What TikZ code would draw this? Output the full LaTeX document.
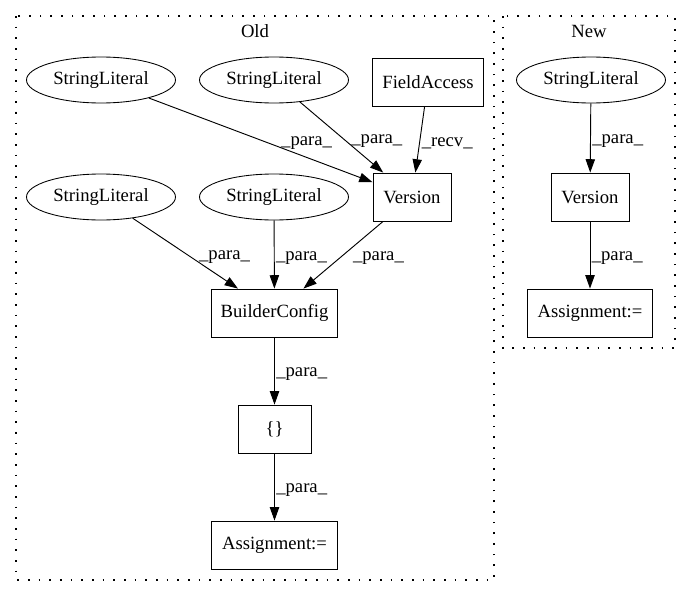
\documentclass[tikz,border=0pt]{standalone}
\usepackage{fontspec}
\setmainfont{Liberation Serif}
\usepackage{tikz}
\usetikzlibrary{positioning, shapes, arrows.meta}

\begin{document}
\begin{tikzpicture}[
    x=0.75pt, y=-0.75pt,
    font=\fontsize{14}{16}\selectfont,
    block/.style={rectangle, draw, line width=0.65pt, minimum height=36pt, inner sep=0pt},
    cloud/.style={ellipse, draw, line width=0.65pt, minimum width=111.75pt, minimum height=34.5pt, inner sep=0pt},
    line/.style={draw, line width=0.7pt, -{Triangle[length=10pt, width=7pt]}},
    lbl/.style={inner sep=1pt, right, yshift=-2.5pt},
    cluster/.style={draw, line width=0.9pt, dash pattern=on 1.3pt off 6.7pt}
    ]
    \useasboundingbox (0,0) rectangle (692,596);

    % Old
    \draw[cluster] (16,16) rectangle (494,580);
    \node (oldlbl) at (255,31) {Old};

    \node[cloud] (sla) at (101,80) {StringLiteral};
    \node[cloud] (slb) at (274,80) {StringLiteral};
    \node[block, minimum width=83pt] (fa) at (428,82) {FieldAccess};
    \node[block, minimum width=58.5pt] (ver) at (412,197) {Version};
    \node[cloud] (slc) at (101,197) {StringLiteral};
    \node[cloud] (sld) at (274,197) {StringLiteral};
    \node[block, minimum width=94pt] (bc) at (274.5,313) {BuilderConfig};
    \node[block, minimum width=54.75pt] (br) at (274.5,429) {\{\}};
    \node[block, minimum width=94pt] (asg) at (274.5,545) {Assignment:=};

    % New
    \draw[cluster] (503,16) rectangle (675,348);
    \node (newlbl) at (589,31) {New};

    \node[cloud] (nsl) at (591,80) {StringLiteral};
    \node[block, minimum width=58.5pt] (nver) at (590,197) {Version};
    \node[block, minimum width=94pt] (nasg) at (590,313) {Assignment:=};

    \draw[line] (sla) -- (ver) node[lbl, pos=0.5, xshift=14pt] {\_para\_};
    \draw[line] (slb) -- (ver) node[lbl, pos=0.5, xshift=6pt] {\_para\_};
    \draw[line] (fa) -- (ver) node[lbl, pos=0.5] {\_recv\_};

    \draw[line] (slc) -- (bc) node[lbl, pos=0.5, xshift=9pt] {\_para\_};
    \draw[line] (sld) -- (bc) node[lbl, pos=0.5] {\_para\_};
    \draw[line] (ver) -- (bc) node[lbl, pos=0.5, xshift=6pt] {\_para\_};

    \draw[line] (bc) -- (br) node[lbl, pos=0.5] {\_para\_};
    \draw[line] (br) -- (asg) node[lbl, pos=0.5] {\_para\_};

    \draw[line] (nsl) -- (nver) node[lbl, pos=0.5] {\_para\_};
    \draw[line] (nver) -- (nasg) node[lbl, pos=0.5] {\_para\_};

  \end{tikzpicture}
\end{document}
